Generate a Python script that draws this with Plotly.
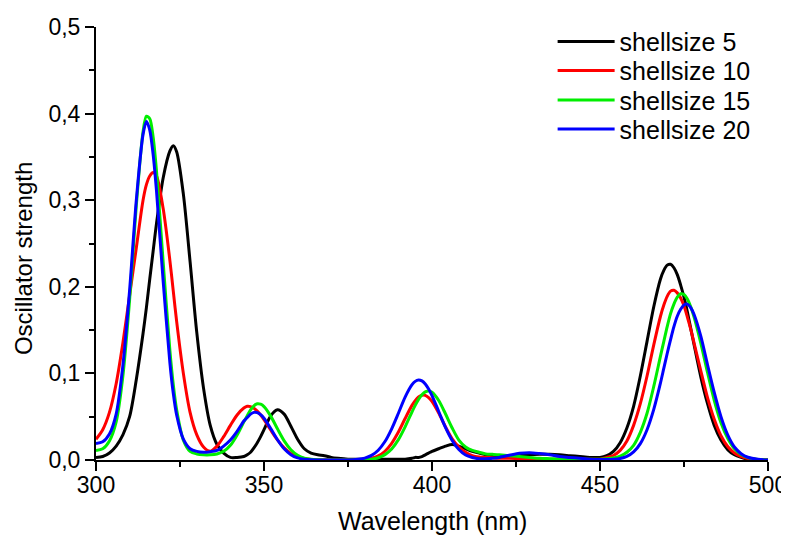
import plotly.graph_objects as go

wavelength = [300, 302, 304, 306, 308, 310,
              312, 314, 315, 316, 317, 318,
              320, 322, 323, 324, 326, 328,
              330, 332, 334, 336, 338, 340, 342, 344,
              345, 346, 347, 348, 349, 350,
              352, 354, 356, 358, 360, 362, 364, 366, 368, 370, 372,
              375, 378, 380, 382, 384, 386, 388, 390, 392, 394,
              395, 396, 397, 398, 399, 400,
              402, 404, 406, 408, 410, 412, 414, 416, 418, 420,
              423, 426, 429, 432, 435, 438, 441, 444, 447, 450,
              452, 454, 456, 458, 460, 462, 464, 466, 468,
              469, 470, 471, 472, 473, 474, 475, 476, 477, 478,
              480, 482, 484, 486, 488, 490, 492, 494, 497, 500]

shell5 = [0.003, 0.004, 0.008, 0.016, 0.029, 0.050,
          0.093, 0.146, 0.176, 0.209, 0.241, 0.273,
          0.326, 0.357, 0.363, 0.356, 0.307, 0.229,
          0.147, 0.083, 0.040, 0.018, 0.008, 0.003, 0.003, 0.004,
          0.006, 0.009, 0.014, 0.020, 0.027, 0.035,
          0.051, 0.058, 0.053, 0.039, 0.024, 0.013, 0.008, 0.006, 0.005, 0.003, 0.002,
          0.001, 0.001, 0.001, 0.001, 0.001, 0.001, 0.001, 0.001, 0.001, 0.002,
          0.003, 0.003, 0.004, 0.006, 0.008, 0.010,
          0.013, 0.016, 0.018, 0.016, 0.013, 0.010, 0.008, 0.006, 0.005, 0.005,
          0.005, 0.005, 0.006, 0.0065, 0.0065, 0.006, 0.005, 0.004, 0.003, 0.003,
          0.005, 0.010, 0.020, 0.037, 0.062, 0.097, 0.137, 0.177, 0.209,
          0.219, 0.225, 0.226, 0.222, 0.214, 0.202, 0.188, 0.171, 0.152, 0.133,
          0.096, 0.065, 0.040, 0.023, 0.012, 0.006, 0.003, 0.001, 0.0003, 0.0]

shell10 = [0.024, 0.035, 0.055, 0.088, 0.135, 0.190,
           0.245, 0.300, 0.318, 0.328, 0.332, 0.328,
           0.290, 0.230, 0.195, 0.160, 0.100, 0.055,
           0.029, 0.015, 0.010, 0.016, 0.027, 0.040, 0.052, 0.060,
           0.062, 0.0616, 0.0597, 0.0564, 0.052, 0.0466,
           0.0346, 0.0232, 0.014, 0.0076, 0.0038, 0.0017, 0.0007, 0.0003, 0.0002, 0.0001, 0.0,
           0.0, 0.0, 0.0007, 0.002, 0.0047, 0.0101, 0.0193, 0.0323, 0.0479, 0.0628,
           0.0686, 0.0728, 0.0748, 0.0746, 0.0721, 0.0676,
           0.0541, 0.0384, 0.0245, 0.015, 0.009, 0.005, 0.0035, 0.003, 0.0025, 0.002,
           0.002, 0.0015, 0.001, 0.001, 0.001, 0.001, 0.001, 0.001, 0.001, 0.001,
           0.003, 0.0052, 0.0111, 0.022, 0.040, 0.065, 0.097, 0.133, 0.166,
           0.179, 0.189, 0.195, 0.196, 0.193, 0.187, 0.178, 0.165, 0.151, 0.135,
           0.103, 0.072, 0.047, 0.028, 0.0156, 0.008, 0.0038, 0.0017, 0.0004, 0.0001]

shell15 = [0.011, 0.013, 0.022, 0.044, 0.097, 0.185,
           0.294, 0.379, 0.397, 0.394, 0.373, 0.334,
           0.228, 0.126, 0.087, 0.058, 0.023, 0.010,
           0.007, 0.006, 0.006, 0.007, 0.010, 0.017, 0.029, 0.044,
           0.051, 0.0578, 0.0626, 0.065, 0.0644, 0.0617,
           0.0507, 0.036, 0.0221, 0.0118, 0.0054, 0.0021, 0.0008, 0.0003, 0.0001, 0.0, 0.0,
           0.0, 0.0, 0.0003, 0.001, 0.0026, 0.0062, 0.0128, 0.0235, 0.0383, 0.0551,
           0.0631, 0.070, 0.0754, 0.0787, 0.0797, 0.0782,
           0.0687, 0.0534, 0.037, 0.023, 0.015, 0.011, 0.009, 0.007, 0.0065, 0.006,
           0.005, 0.004, 0.003, 0.002, 0.0015, 0.001, 0.001, 0.001, 0.001, 0.001,
           0.0015, 0.0024, 0.0046, 0.009, 0.017, 0.032, 0.054, 0.085, 0.120,
           0.137, 0.154, 0.169, 0.180, 0.188, 0.192, 0.191, 0.186, 0.177, 0.165,
           0.135, 0.101, 0.069, 0.043, 0.025, 0.013, 0.0064, 0.0028, 0.0007, 0.0001]

shell20 = [0.019, 0.021, 0.030, 0.053, 0.109, 0.196,
           0.300, 0.376, 0.391, 0.381, 0.353, 0.311,
           0.206, 0.112, 0.077, 0.052, 0.024, 0.013,
           0.010, 0.009, 0.0096, 0.011, 0.016, 0.023, 0.033, 0.045,
           0.049, 0.053, 0.055, 0.0547, 0.0523, 0.0482,
           0.0363, 0.0234, 0.0129, 0.0061, 0.0024, 0.0009, 0.0003, 0.0001, 0.0, 0.0, 0.0,
           0.0, 0.0008, 0.0022, 0.0053, 0.0113, 0.0213, 0.036, 0.054, 0.0726, 0.0867,
           0.0908, 0.0924, 0.0913, 0.0877, 0.0819, 0.0743,
           0.056, 0.0377, 0.0226, 0.0121, 0.0057, 0.0029, 0.0014, 0.0015, 0.002, 0.003,
           0.0054, 0.0077, 0.0085, 0.0075, 0.006, 0.004, 0.003, 0.002, 0.001, 0.0005,
           0.0005, 0.0008, 0.0017, 0.0041, 0.0093, 0.0189, 0.035, 0.0585, 0.089,
           0.106, 0.123, 0.139, 0.154, 0.166, 0.174, 0.179, 0.180, 0.176, 0.168,
           0.143, 0.110, 0.078, 0.050, 0.029, 0.015, 0.0073, 0.0032, 0.0008, 0.0001]

series_names = ["shellsize 5", "shellsize 10", "shellsize 15", "shellsize 20"]
series_values = [shell5, shell10, shell15, shell20]
series_colors = ["#000000", "#ff0000", "#00ee00", "#0000ff"]
legend_ids = ["legend", "legend2", "legend3", "legend4"]
legend_rows_y = [0.966, 0.899, 0.831, 0.764]

FONT = "Liberation Sans, Arial, sans-serif"

fig = go.Figure()
for name, vals, col, lg in zip(series_names, series_values, series_colors, legend_ids):
    fig.add_trace(go.Scatter(
        x=wavelength, y=vals, mode="lines", name=name, legend=lg,
        line=dict(color=col, width=3, shape="spline", smoothing=0.8),
    ))

axis_common = dict(
    showgrid=False, zeroline=False, showline=True, linecolor="#000000",
    linewidth=2, ticks="outside", ticklen=9, tickwidth=2, tickcolor="#000000",
    tickfont=dict(family=FONT, size=23, color="#000000"), mirror=False,
    automargin=False,
)

fig.update_xaxes(range=[300, 500], tick0=300, dtick=50, ticklabelstandoff=-6,
                 minor=dict(ticks="outside", ticklen=5, tickwidth=2,
                            tickcolor="#000000", dtick=25, tick0=300),
                 **axis_common)
fig.update_yaxes(range=[0, 0.5], tick0=0, dtick=0.1, tickformat=".1f",
                 minor=dict(ticks="outside", ticklen=5, tickwidth=2,
                            tickcolor="#000000", dtick=0.05, tick0=0),
                 **axis_common)

legend_layout = {}
for lg, ly in zip(legend_ids, legend_rows_y):
    legend_layout[lg] = dict(
        x=0.6795, y=ly, xanchor="left", yanchor="middle",
        bgcolor="rgba(0,0,0,0)", borderwidth=0,
        font=dict(family=FONT, size=25, color="#000000"),
        itemwidth=57,
    )

# page body has an 8px margin, so the figure is 8px smaller on each leading side
fig.update_layout(
    width=781, height=528,
    margin=dict(l=88, r=21, t=19, b=76, autoexpand=False),
    paper_bgcolor="white", plot_bgcolor="white",
    separators=", ",
    font=dict(family=FONT, size=23, color="#000000"),
    showlegend=True,
    annotations=[
        dict(text="Wavelength (nm)", xref="paper", yref="paper",
             x=0.5, y=-0.141, xanchor="center", yanchor="middle",
             showarrow=False, font=dict(family=FONT, size=25)),
        dict(text="Oscillator strength", xref="paper", yref="paper",
             x=-0.108, y=0.465, xanchor="center", yanchor="middle",
             textangle=-90, showarrow=False, font=dict(family=FONT, size=24)),
    ],
    **legend_layout,
)

fig.write_html("out.html")
